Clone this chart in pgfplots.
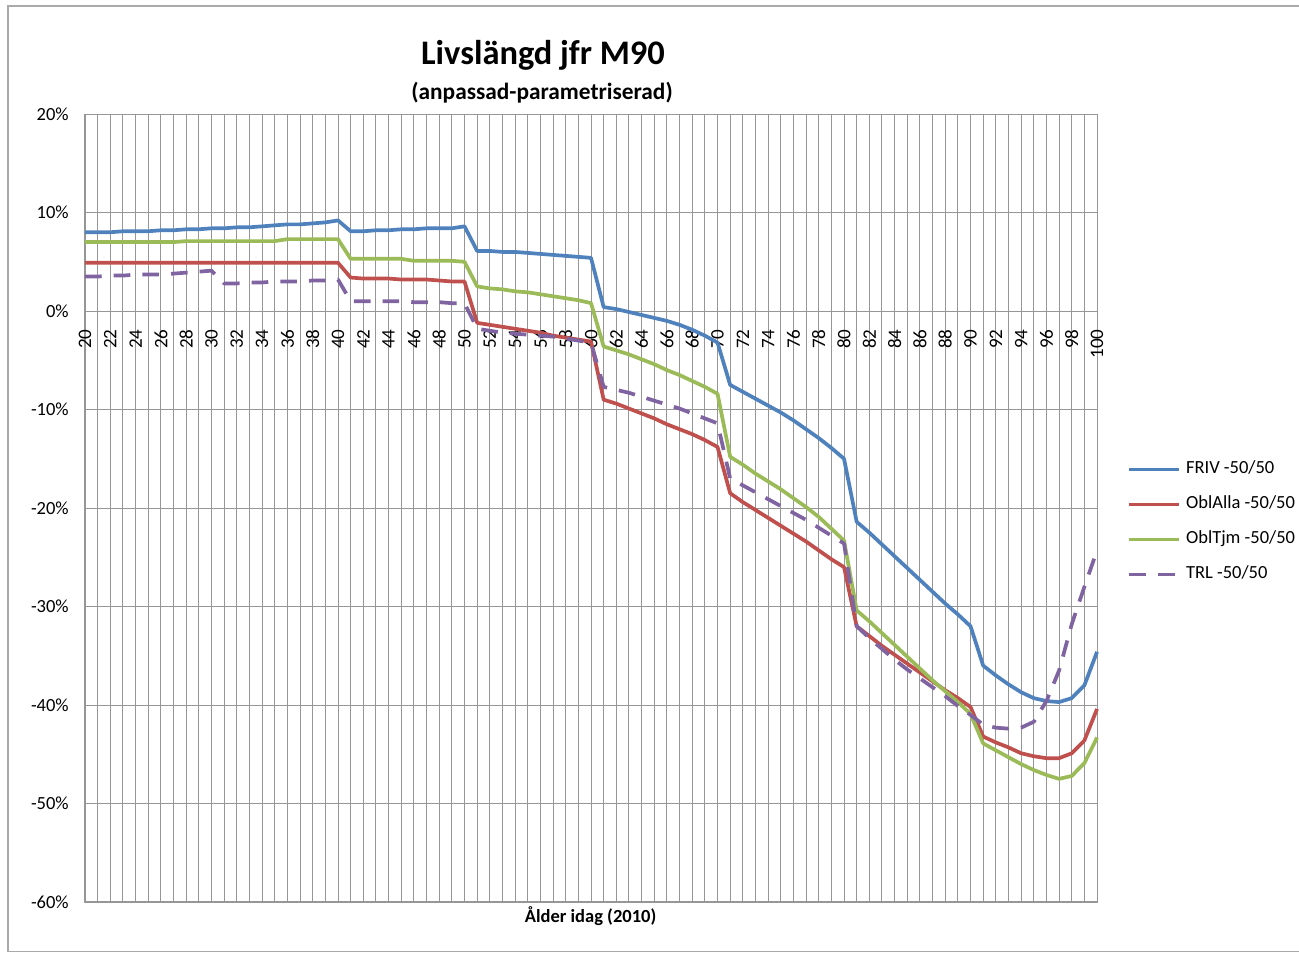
\documentclass[border=0pt]{standalone}
\usepackage{pgfplots}
\pgfplotsset{compat=1.18}
\usepackage{fontspec}
\setmainfont{Carlito}
\definecolor{cBlue}{HTML}{4F81BD}
\definecolor{cRed}{HTML}{C0504D}
\definecolor{cGreen}{HTML}{9BBB59}
\definecolor{cPurple}{HTML}{8064A2}
\definecolor{cGrid}{RGB}{150,150,150}
\definecolor{cBorder}{RGB}{170,170,170}
\begin{document}
\begin{tikzpicture}
\useasboundingbox (-45.9pt,-27.54pt) rectangle (655.56pt,487.08pt);
\draw[cBorder, line width=0.8pt] (660pt,483.84pt) -- (-41.58pt,483.84pt) -- (-41.58pt,-26.73pt) -- (660pt,-26.73pt);
\begin{axis}[
  at={(0pt,0pt)}, anchor=south west,
  scale only axis, width=546.5pt, height=425.5pt,
  xmin=20, xmax=100, ymin=-60, ymax=20,
  xtick={20,22,...,100}, minor x tick num=1,
  ytick={-60,-50,...,20},
  yticklabels={-60\%,-50\%,-40\%,-30\%,-20\%,-10\%,0\%,10\%,20\%},
  grid=both,
  major grid style={cGrid, line width=0.55pt},
  minor grid style={cGrid, line width=0.55pt},
  axis line style={cGrid, line width=0.55pt},
  tick style={draw=none},
  font=\fontsize{10}{12}\selectfont,
  /pgf/number format/assume math mode=true,
  yticklabel style={anchor=east, inner sep=0pt, xshift=-8.6pt},
  xticklabel style={yshift=309.4pt, rotate=90, anchor=east, inner sep=0pt, font=\fontsize{10.3}{12}\selectfont},
  clip=false,
  legend style={draw=none, fill=none, inner sep=0pt, at={(1.0296,0.4823)}, anchor=west,
    font=\fontsize{10}{12}\selectfont, row sep=10.6pt,
    nodes={inner sep=0pt, text height=6.5pt, text depth=1.8pt},
    /tikz/every odd column/.append style={column sep=2.7pt}},
  legend cell align=left,
  legend image code/.code={\draw[#1] (0pt,0pt) -- (27pt,0pt);},
  every axis plot/.append style={line width=2pt, line join=round},
]
\addplot[cBlue] coordinates {
(20,8.0)(21,8.0)(22,8.0)(23,8.1)(24,8.1)(25,8.1)(26,8.2)(27,8.2)(28,8.3)(29,8.3)(30,8.4)
(31,8.4)(32,8.5)(33,8.5)(34,8.6)(35,8.7)(36,8.8)(37,8.8)(38,8.9)(39,9.0)(40,9.2)
(41,8.1)(42,8.1)(43,8.2)(44,8.2)(45,8.3)(46,8.3)(47,8.4)(48,8.4)(49,8.4)(50,8.6)
(51,6.1)(52,6.1)(53,6.0)(54,6.0)(55,5.9)(56,5.8)(57,5.7)(58,5.6)(59,5.5)(60,5.4)
(61,0.4)(62,0.2)(63,-0.1)(64,-0.4)(65,-0.7)(66,-1.0)(67,-1.4)(68,-1.9)(69,-2.5)(70,-3.2)
(71,-7.5)(72,-8.2)(73,-8.9)(74,-9.6)(75,-10.3)(76,-11.1)(77,-12.0)(78,-12.9)(79,-13.9)(80,-15.0)
(81,-21.4)(82,-22.5)(83,-23.7)(84,-24.9)(85,-26.1)(86,-27.3)(87,-28.5)(88,-29.7)(89,-30.8)(90,-32.0)
(91,-36.0)(92,-37.0)(93,-37.9)(94,-38.7)(95,-39.3)(96,-39.6)(97,-39.7)(98,-39.3)(99,-38.0)(100,-34.6)
};
\addlegendentry{FRIV -50/50}
\addplot[cRed] coordinates {
(20,4.9)(21,4.9)(22,4.9)(23,4.9)(24,4.9)(25,4.9)(26,4.9)(27,4.9)(28,4.9)(29,4.9)(30,4.9)
(31,4.9)(32,4.9)(33,4.9)(34,4.9)(35,4.9)(36,4.9)(37,4.9)(38,4.9)(39,4.9)(40,4.9)
(41,3.4)(42,3.3)(43,3.3)(44,3.3)(45,3.2)(46,3.2)(47,3.2)(48,3.1)(49,3.0)(50,3.0)
(51,-1.2)(52,-1.4)(53,-1.6)(54,-1.8)(55,-2.0)(56,-2.2)(57,-2.5)(58,-2.7)(59,-2.9)(60,-3.1)
(61,-9.0)(62,-9.4)(63,-9.9)(64,-10.4)(65,-10.9)(66,-11.5)(67,-12.0)(68,-12.5)(69,-13.1)(70,-13.8)
(71,-18.5)(72,-19.4)(73,-20.2)(74,-21.0)(75,-21.8)(76,-22.6)(77,-23.4)(78,-24.3)(79,-25.2)(80,-26.0)
(81,-32.0)(82,-33.0)(83,-34.0)(84,-34.9)(85,-35.8)(86,-36.7)(87,-37.6)(88,-38.5)(89,-39.3)(90,-40.2)
(91,-43.2)(92,-43.8)(93,-44.3)(94,-44.9)(95,-45.2)(96,-45.4)(97,-45.4)(98,-44.9)(99,-43.6)(100,-40.4)
};
\addlegendentry{OblAlla -50/50}
\addplot[cGreen] coordinates {
(20,7.0)(21,7.0)(22,7.0)(23,7.0)(24,7.0)(25,7.0)(26,7.0)(27,7.0)(28,7.1)(29,7.1)(30,7.1)
(31,7.1)(32,7.1)(33,7.1)(34,7.1)(35,7.1)(36,7.3)(37,7.3)(38,7.3)(39,7.3)(40,7.3)
(41,5.3)(42,5.3)(43,5.3)(44,5.3)(45,5.3)(46,5.1)(47,5.1)(48,5.1)(49,5.1)(50,5.0)
(51,2.5)(52,2.3)(53,2.2)(54,2.0)(55,1.9)(56,1.7)(57,1.5)(58,1.3)(59,1.1)(60,0.8)
(61,-3.6)(62,-4.0)(63,-4.4)(64,-4.9)(65,-5.4)(66,-6.0)(67,-6.5)(68,-7.1)(69,-7.7)(70,-8.4)
(71,-14.8)(72,-15.6)(73,-16.5)(74,-17.3)(75,-18.1)(76,-19.0)(77,-19.9)(78,-20.9)(79,-22.1)(80,-23.3)
(81,-30.4)(82,-31.5)(83,-32.7)(84,-33.9)(85,-35.1)(86,-36.3)(87,-37.5)(88,-38.6)(89,-39.7)(90,-40.9)
(91,-43.9)(92,-44.6)(93,-45.3)(94,-46.0)(95,-46.6)(96,-47.1)(97,-47.5)(98,-47.2)(99,-45.9)(100,-43.3)
};
\addlegendentry{OblTjm -50/50}
\addplot[cPurple, dash pattern=on 9pt off 6.5pt] coordinates {
(20,3.5)(21,3.5)(22,3.6)(23,3.6)(24,3.7)(25,3.7)(26,3.7)(27,3.8)(28,3.9)(29,4.0)(30,4.1)
(31,2.8)(32,2.8)(33,2.9)(34,2.9)(35,3.0)(36,3.0)(37,3.0)(38,3.1)(39,3.1)(40,3.2)
(41,1.0)(42,1.0)(43,1.0)(44,1.0)(45,1.0)(46,0.9)(47,0.9)(48,0.9)(49,0.8)(50,0.8)
(51,-1.8)(52,-2.0)(53,-2.2)(54,-2.3)(55,-2.4)(56,-2.5)(57,-2.6)(58,-2.8)(59,-3.0)(60,-3.2)
(61,-7.7)(62,-8.0)(63,-8.3)(64,-8.7)(65,-9.1)(66,-9.5)(67,-9.9)(68,-10.4)(69,-10.9)(70,-11.4)
(71,-17.0)(72,-17.7)(73,-18.4)(74,-19.1)(75,-19.8)(76,-20.5)(77,-21.2)(78,-22.0)(79,-22.8)(80,-23.6)
(81,-32.0)(82,-33.2)(83,-34.3)(84,-35.4)(85,-36.4)(86,-37.3)(87,-38.2)(88,-39.1)(89,-40.1)(90,-41.0)
(91,-42.0)(92,-42.3)(93,-42.4)(94,-42.3)(95,-41.7)(96,-39.6)(97,-36.5)(98,-31.8)(99,-28.0)(100,-24.3)
};
\addlegendentry{TRL -50/50}
\end{axis}
\node[font=\bfseries\fontsize{18.6}{20}\selectfont] at (247.3pt,457.4pt) {Livslängd jfr M90};
\node[font=\bfseries\fontsize{12.6}{14}\selectfont] at (246.8pt,436.9pt) {(anpassad-parametriserad)};
\node[font=\bfseries\fontsize{10}{12}\selectfont] at (273.0pt,-7.56pt) {Ålder idag (2010)};
\end{tikzpicture}
\end{document}
